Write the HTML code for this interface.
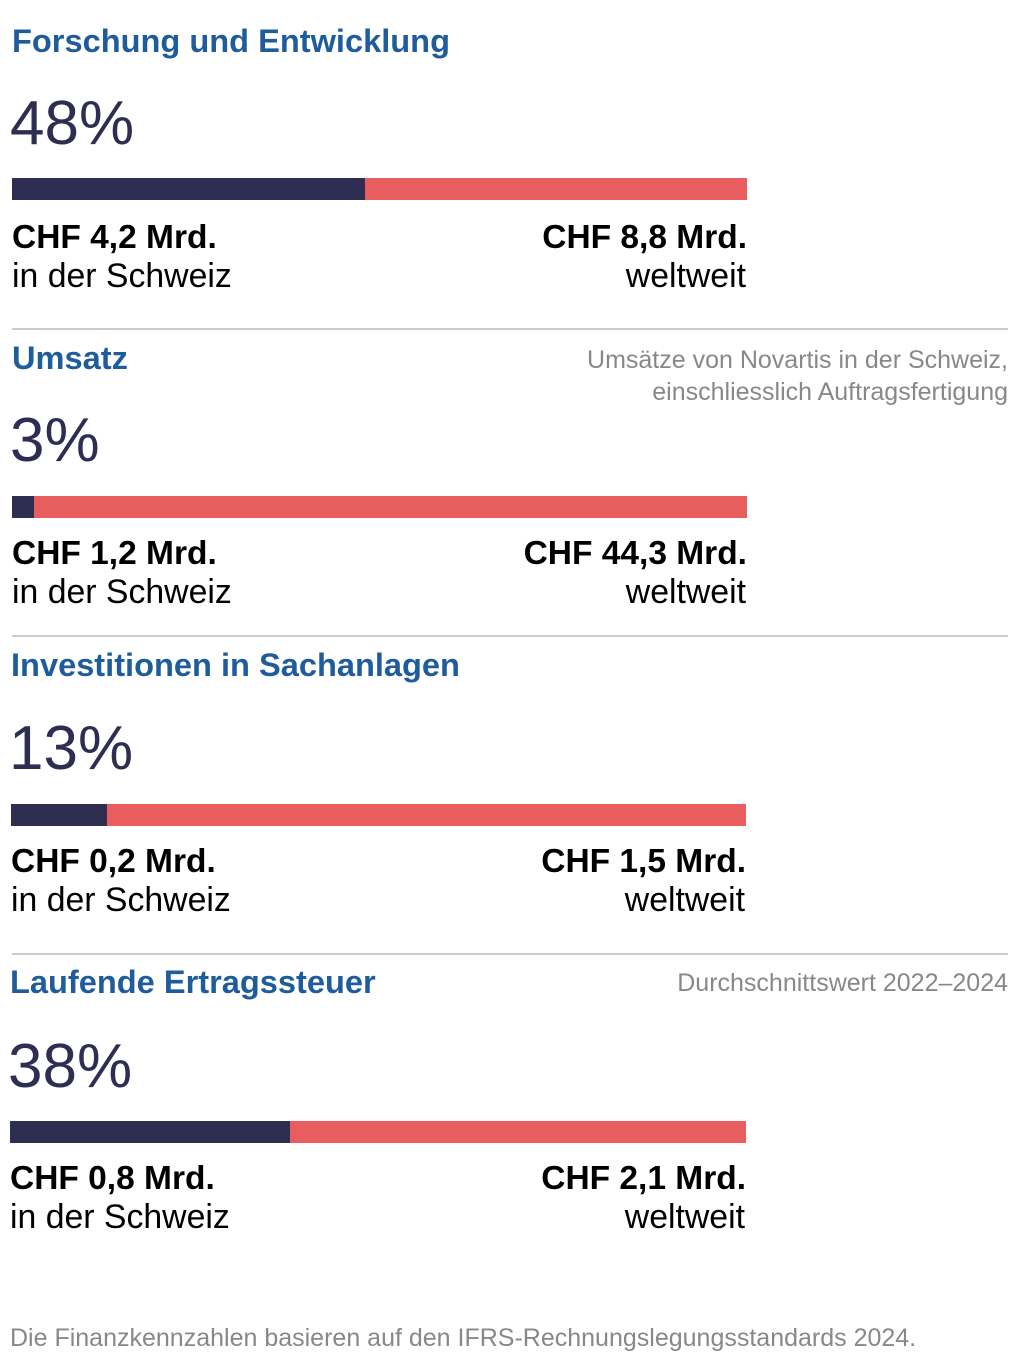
<!DOCTYPE html>
<html><head><meta charset="utf-8"><style>
body{margin:0;width:1027px;height:1359px;background:#fff;position:relative;font-family:"Liberation Sans",sans-serif;overflow:hidden}
.a{position:absolute;white-space:nowrap;line-height:1}
.t{font-size:32.6px;font-weight:bold;color:#1f5c9c}
.p{font-size:62px;color:#2d2e52}
.b{font-size:33.5px;font-weight:bold;color:#000}
.r{font-size:33.8px;color:#000}
.n{font-size:25px;color:#888;text-align:right}
.bar{position:absolute;height:22px;background:#e85e5e}
.bar div{height:100%;background:#2d2e52}
.hr{position:absolute;left:12px;width:996px;height:2px;background:#ccc}
</style></head><body>

<div class="a t" style="left:12px;top:25px">Forschung und Entwicklung</div>
<div class="a p" style="left:10px;top:93px">48%</div>
<div class="bar" style="left:12px;top:178px;width:735px"><div style="width:353px"></div></div>
<div class="a b" style="left:12px;top:221px">CHF 4,2 Mrd.</div>
<div class="a r" style="left:12px;top:260px">in der Schweiz</div>
<div class="a b" style="right:280px;top:221px">CHF 8,8 Mrd.</div>
<div class="a r" style="right:281px;top:260px">weltweit</div>
<div class="hr" style="top:328px"></div>

<div class="a t" style="left:12px;top:342px">Umsatz</div>
<div class="a n" style="right:19px;top:344px;line-height:32px">Umsätze von Novartis in der Schweiz,<br>einschliesslich Auftragsfertigung</div>
<div class="a p" style="left:10px;top:410px">3%</div>
<div class="bar" style="left:12px;top:496px;width:735px"><div style="width:22px"></div></div>
<div class="a b" style="left:12px;top:537px">CHF 1,2 Mrd.</div>
<div class="a r" style="left:12px;top:576px">in der Schweiz</div>
<div class="a b" style="right:280px;top:537px">CHF 44,3 Mrd.</div>
<div class="a r" style="right:281px;top:576px">weltweit</div>
<div class="hr" style="top:635px"></div>

<div class="a t" style="left:11px;top:649px">Investitionen in Sachanlagen</div>
<div class="a p" style="left:9px;top:718px">13%</div>
<div class="bar" style="left:11px;top:804px;width:735px"><div style="width:96px"></div></div>
<div class="a b" style="left:11px;top:845px">CHF 0,2 Mrd.</div>
<div class="a r" style="left:11px;top:884px">in der Schweiz</div>
<div class="a b" style="right:281px;top:845px">CHF 1,5 Mrd.</div>
<div class="a r" style="right:282px;top:884px">weltweit</div>
<div class="hr" style="top:953px"></div>

<div class="a t" style="left:10px;top:966px">Laufende Ertragssteuer</div>
<div class="a n" style="right:19px;top:971px">Durchschnittswert 2022–2024</div>
<div class="a p" style="left:8px;top:1036px">38%</div>
<div class="bar" style="left:10px;top:1121px;width:736px"><div style="width:280px"></div></div>
<div class="a b" style="left:10px;top:1162px">CHF 0,8 Mrd.</div>
<div class="a r" style="left:10px;top:1201px">in der Schweiz</div>
<div class="a b" style="right:281px;top:1162px">CHF 2,1 Mrd.</div>
<div class="a r" style="right:282px;top:1201px">weltweit</div>

<div class="a n" style="left:10px;top:1326px;text-align:left">Die Finanzkennzahlen basieren auf den IFRS-Rechnungslegungsstandards 2024.</div>
</body></html>
